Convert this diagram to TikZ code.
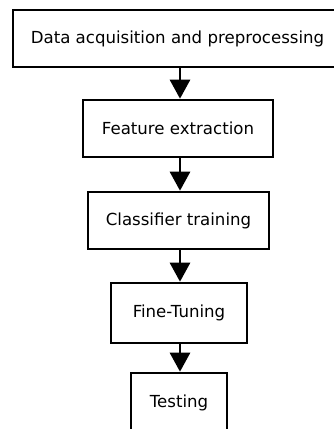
\documentclass[tikz,border=0pt]{standalone}
\usepackage{fontspec}
\setmainfont{DejaVu Sans}
\usetikzlibrary{arrows.meta}

\begin{document}
\begin{tikzpicture}[
		x=1pt, y=-1pt,
		stage/.style={draw, line width=2.6pt, fill=white, inner sep=0pt, font=\fontsize{16.6}{19}\selectfont},
		flow/.style={line width=2.8pt, -{Triangle[width=20pt,length=19pt]}}
		]
		\useasboundingbox (0,0) rectangle (334,429);
		
		% Stages of the pipeline
		\node[stage, minimum width=329pt, minimum height=57pt] (acq) at (177.5,38.5) {Data acquisition and preprocessing};
		\node[stage, minimum width=190pt, minimum height=57pt] (feat) at (178,128.5) {Feature extraction};
		\node[stage, minimum width=181pt, minimum height=57pt] (clf) at (178.5,220.5) {Classifier training};
		\node[stage, minimum width=136pt, minimum height=60pt] (tune) at (179,313) {Fine-Tuning};
		\node[stage, minimum width=96pt, minimum height=60pt] (test) at (179,403) {Testing};
		
		% Arrows between stages
		\draw[flow] (acq.south -| 180,0) -- (feat.north -| 180,0);
		\draw[flow] (feat.south -| 180,0) -- (clf.north -| 180,0);
		\draw[flow] (clf.south -| 180,0) -- (tune.north -| 180,0);
		\draw[flow] (tune.south -| 180,0) -- (test.north -| 180,0);
		
	\end{tikzpicture}
\end{document}
